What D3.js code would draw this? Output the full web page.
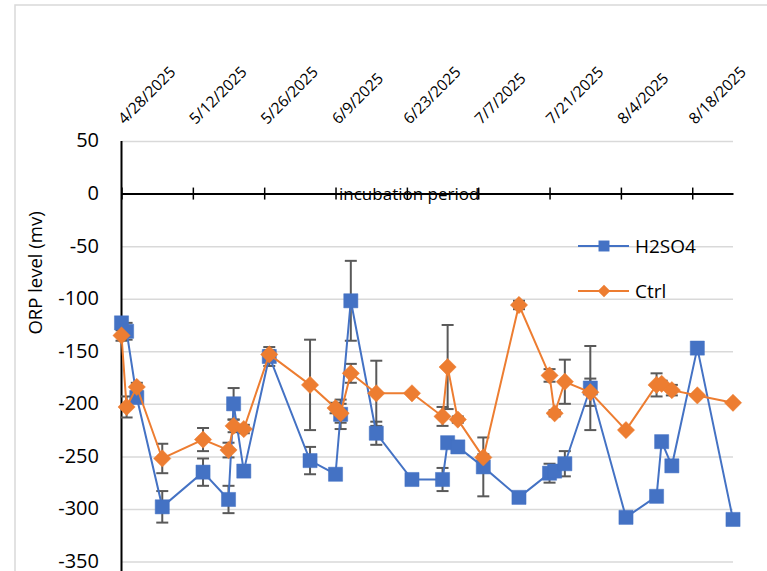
<!DOCTYPE html>
<html>
<head>
<meta charset="utf-8">
<script src="https://cdn.jsdelivr.net/npm/d3@7"></script>
<style>
    html, body { margin: 0; padding: 0; background: #fff; }
    svg { display: block; font-family: 'Open Sans', Lato, sans-serif; }
</style>
</head>
<body>
<svg id="chart" width="767" height="571"></svg>
<script>
'use strict';

const sampleDates = ['2025-04-28', '2025-04-29', '2025-05-01', '2025-05-06', '2025-05-14', '2025-05-19',
    '2025-05-20', '2025-05-22', '2025-05-27', '2025-06-04', '2025-06-09', '2025-06-10', '2025-06-12',
    '2025-06-17', '2025-06-24', '2025-06-30', '2025-07-01', '2025-07-03', '2025-07-08', '2025-07-15',
    '2025-07-21', '2025-07-22', '2025-07-24', '2025-07-29', '2025-08-05', '2025-08-11', '2025-08-12',
    '2025-08-14', '2025-08-19', '2025-08-26'];

const h2so4 = [-123, -131, -194, -298, -265, -291, -200, -264, -155, -254, -267, -210, -102,
    -228, -272, -272, -237, -241, -260, -289, -266, -264, -257, -185, -308, -288, -236,
    -259, -147, -310];
const h2so4Err = [3, 8, 4, 15, 13, 13, 15, 5, 9, 13, 5, 14, 38, 11, 0, 11, 4, 3, 28, 0,
    9, 4, 12, 40, 0, 0, 0, 0, 0, 0];

const ctrl = [-135, -203, -184, -252, -234, -244, -221, -224, -153, -182, -204, -209, -171,
    -190, -190, -212, -165, -215, -251, -106, -173, -209, -179, -189, -225, -182, -181,
    -187, -192, -199];
const ctrlErr = [5, 10, 4, 14, 11, 7, 6, 4, 4, 43, 5, 9, 9, 31, 0, 9, 40, 3, 3, 4, 6, 3,
    21, 13, 0, 11, 3, 5, 0, 0];

const dateTicks = ['4/28/2025', '5/12/2025', '5/26/2025', '6/9/2025', '6/23/2025', '7/7/2025',
    '7/21/2025', '8/4/2025', '8/18/2025'];
const yTicks = [50, 0, -50, -100, -150, -200, -250, -300, -350];

(function() {
    const parseDate = d3.timeParse('%Y-%m-%d');
    const parseTick = d3.timeParse('%-m/%-d/%Y');
    const svg = d3.select('#chart');

    const x = d3.scaleTime()
        .domain([parseDate('2025-04-28'), parseDate('2025-08-26')])
        .range([121.5, 733]);

    const y = d3.scaleLinear()
        .domain([-350, 50])
        .range([561.5, 141]);

    const series = [
        {name: 'H2SO4', values: h2so4, err: h2so4Err, color: '#4472c4', marker: d3.symbolSquare, size: 200},
        {name: 'Ctrl', values: ctrl, err: ctrlErr, color: '#ed7d31', marker: d3.symbolDiamond2, size: 190}
    ];
    series.forEach(s => {
        s.points = sampleDates.map((d, i) => ({date: parseDate(d), val: s.values[i], err: s.err[i]}));
    });

    // outer frame
    svg.append('path')
        .attr('d', 'M15,571V5H767')
        .attr('fill', 'none')
        .attr('stroke', '#d9d9d9')
        .attr('stroke-width', 1.5);

    // grid
    svg.append('g')
        .attr('transform', 'translate(121.5,0)')
        .call(d3.axisLeft(y)
            .tickValues(yTicks)
            .tickSize(-(733 - 121.5))
            .tickFormat(''))
        .call(g => g.select('.domain').remove())
        .selectAll('line')
        .attr('stroke', '#d9d9d9')
        .attr('stroke-width', 1.5);

    // y labels
    svg.append('g')
        .selectAll('text')
        .data(yTicks)
        .enter()
        .append('text')
        .attr('x', 99)
        .attr('y', d => y(d))
        .attr('dy', '0.32em')
        .attr('text-anchor', 'end')
        .attr('font-size', 20)
        .attr('fill', '#000')
        .text(d => d < 0 ? '-' + Math.abs(d) : d);

    // y axis line
    svg.append('line')
        .attr('x1', 121.5).attr('x2', 121.5)
        .attr('y1', y(50)).attr('y2', 571)
        .attr('stroke', '#000')
        .attr('stroke-width', 2);

    // axis title
    svg.append('text')
        .attr('transform', 'translate(42,' + 273 + ') rotate(-90)')
        .attr('text-anchor', 'middle')
        .attr('font-size', 18.5)
        .text('ORP level  (mv)');

    // date axis on the zero line
    const tickDates = dateTicks.map(parseTick);
    const xAxis = svg.append('g')
        .attr('transform', 'translate(0,' + y(0) + ')')
        .call(d3.axisBottom(x)
            .tickValues(tickDates)
            .tickSizeInner(0)
            .tickSizeOuter(0)
            .tickFormat(''));
    xAxis.select('.domain')
        .attr('stroke', '#000')
        .attr('stroke-width', 2);
    xAxis.selectAll('.tick line')
        .attr('y1', -6)
        .attr('y2', 6)
        .attr('stroke', '#000')
        .attr('stroke-width', 1.5);

    svg.append('text')
        .attr('x', 339)
        .attr('y', y(0) + 6)
        .attr('font-size', 17)
        .text('incubation period');

    // date labels above the plot
    svg.append('g')
        .selectAll('text')
        .data(tickDates)
        .enter()
        .append('text')
        .attr('transform', d => 'translate(' + (x(d) + 3) + ',125) rotate(-45)')
        .attr('font-size', 15.5)
        .text((d, i) => dateTicks[i]);

    // error bars
    series.forEach(s => {
        const eb = svg.append('g')
            .attr('stroke', '#595959')
            .attr('stroke-width', 2)
            .selectAll('g')
            .data(s.points.filter(p => p.err > 0))
            .enter()
            .append('g');
        eb.append('line')
            .attr('x1', p => x(p.date)).attr('x2', p => x(p.date))
            .attr('y1', p => y(p.val + p.err)).attr('y2', p => y(p.val - p.err));
        [1, -1].forEach(sign => {
            eb.append('line')
                .attr('x1', p => x(p.date) - 6).attr('x2', p => x(p.date) + 6)
                .attr('y1', p => y(p.val + sign * p.err)).attr('y2', p => y(p.val + sign * p.err));
        });
    });

    // series
    const line = d3.line()
        .x(p => x(p.date))
        .y(p => y(p.val));

    series.forEach(s => {
        svg.append('path')
            .datum(s.points)
            .attr('d', line)
            .attr('fill', 'none')
            .attr('stroke', s.color)
            .attr('stroke-width', 2);

        svg.append('g')
            .selectAll('path')
            .data(s.points)
            .enter()
            .append('path')
            .attr('transform', p => 'translate(' + x(p.date) + ',' + y(p.val) + ')')
            .attr('d', d3.symbol().type(s.marker).size(s.size))
            .attr('fill', s.color)
            .attr('stroke', s.color)
            .attr('stroke-width', 0.5);
    });

    // legend
    const legend = svg.append('g')
        .selectAll('g')
        .data(series)
        .enter()
        .append('g')
        .attr('transform', (s, i) => 'translate(578,' + (246 + i * 45) + ')');
    legend.append('line')
        .attr('x1', 0).attr('x2', 51)
        .attr('stroke', s => s.color)
        .attr('stroke-width', 2);
    legend.append('path')
        .attr('transform', 'translate(26,0)')
        .attr('d', s => d3.symbol().type(s.marker).size(s.name === 'Ctrl' ? 100 : 120)())
        .attr('fill', s => s.color);
    legend.append('text')
        .attr('x', 57)
        .attr('dy', '0.35em')
        .attr('font-size', 19)
        .text(s => s.name);
}());
</script>
</body>
</html>
